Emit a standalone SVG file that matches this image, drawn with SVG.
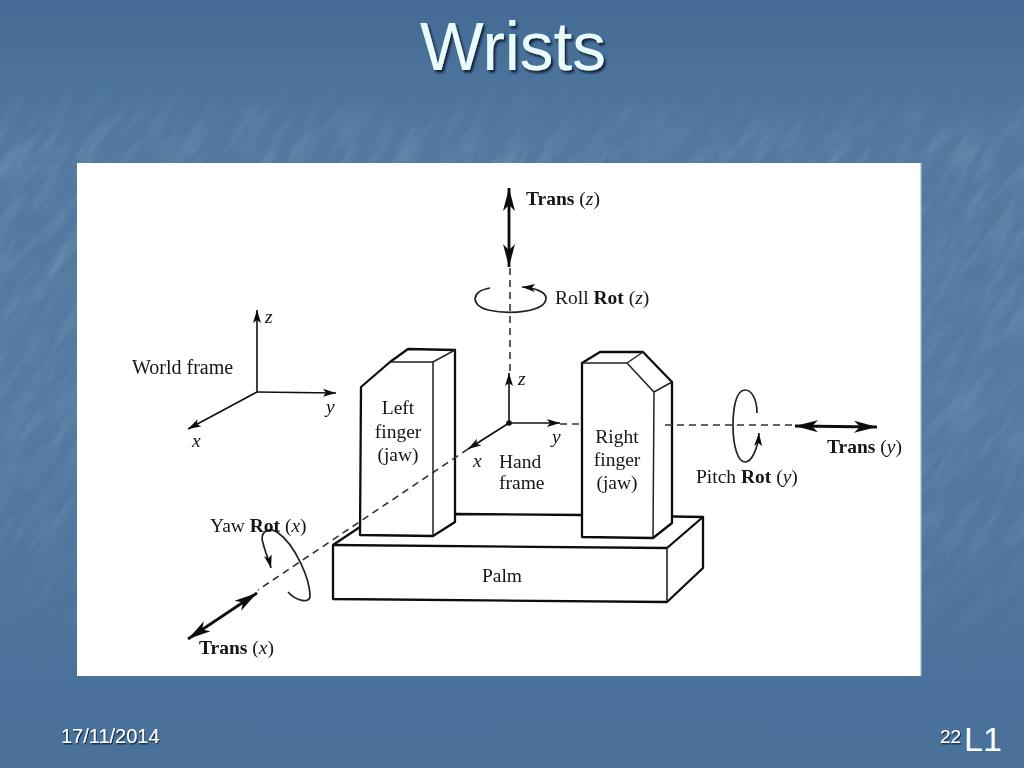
<svg xmlns="http://www.w3.org/2000/svg" width="1024" height="768" viewBox="0 0 1024 768">
<style>
.f{fill:#fff;stroke:#111;stroke-width:2.3;stroke-linejoin:round}
.e{fill:none;stroke:#222;stroke-width:1.5}
.ax{fill:none;stroke:#111;stroke-width:1.6;marker-end:url(#thin)}
.d{fill:none;stroke:#333;stroke-width:1.6;stroke-dasharray:7 5}
.rot{fill:none;stroke:#222;stroke-width:1.7;marker-end:url(#thin)}
.tr{fill:none;stroke:#111;stroke-width:2.8;marker-start:url(#bold);marker-end:url(#bold)}
text{font-family:"Liberation Serif","Times New Roman",serif;font-size:19.5px;fill:#151515}
.c{text-anchor:middle}
.b{font-weight:bold}
.i{font-style:italic}
.ft{font-family:"Liberation Sans",Arial,sans-serif;fill:#fff;filter:url(#sh1)}
.ti{font-family:"Liberation Sans",Arial,sans-serif;font-size:69px;fill:#e9fcfd;filter:url(#sh2)}
</style>
<defs>
<linearGradient id="bg" x1="0" y1="0" x2="0" y2="1">
<stop offset="0" stop-color="#436b95"/><stop offset=".2" stop-color="#527aa0"/><stop offset=".55" stop-color="#537ba1"/><stop offset=".9" stop-color="#4a719b"/><stop offset="1" stop-color="#4a719a"/>
</linearGradient>
<linearGradient id="bandG" x1="0" y1="0" x2="0" y2="1">
<stop offset="0" stop-color="#000"/><stop offset=".1" stop-color="#000"/><stop offset=".2" stop-color="#fff"/><stop offset=".7" stop-color="#ccc"/><stop offset=".88" stop-color="#000"/>
</linearGradient>
<mask id="band"><rect width="1024" height="768" fill="url(#bandG)"/></mask>
<filter id="tex" x="0" y="0" width="100%" height="100%">
<feTurbulence type="fractalNoise" baseFrequency="0.018 0.08" numOctaves="4" seed="7"/>
<feColorMatrix values="0 0 0 0 .72  0 0 0 0 .82  0 0 0 0 .9  1.5 0 0 0 -.62"/>
</filter>
<filter id="sh1" x="-10%" y="-30%" width="120%" height="160%"><feDropShadow dx="1" dy="1.5" stdDeviation=".7" flood-color="#10233a" flood-opacity=".9"/></filter>
<filter id="sh2" x="-10%" y="-10%" width="120%" height="120%"><feDropShadow dx="2" dy="2.5" stdDeviation="1" flood-color="#0d1f33" flood-opacity=".95"/></filter>
<filter id="soft" x="0" y="0" width="100%" height="100%"><feGaussianBlur stdDeviation=".35"/></filter>
<marker id="thin" markerUnits="userSpaceOnUse" markerWidth="14" markerHeight="10" refX="13" refY="5" orient="auto"><path d="M0 1 L13 5 L0 9 L3 5Z" fill="#111"/></marker>
<marker id="bold" markerUnits="userSpaceOnUse" markerWidth="24" markerHeight="14" refX="23" refY="7" orient="auto-start-reverse"><path d="M0 1 L23 7 L0 13 L6 7Z" fill="#111"/></marker>
</defs>

<g id="background">
<rect width="1024" height="768" fill="url(#bg)"/>
<g mask="url(#band)"><rect x="-500" y="-500" width="2100" height="1800" transform="rotate(-55 512 384)" filter="url(#tex)" opacity=".2"/></g>
</g>
<text id="title" class="ti" x="420" y="70" textLength="186" lengthAdjust="spacingAndGlyphs">Wrists</text>
<rect id="panel" x="77" y="163" width="844" height="513" fill="#fff"/>
<path d="M921 163 V676" stroke="#a9b9c9" stroke-width="1.2" fill="none"/>

<g filter="url(#soft)">
<g id="palm">
<path class="f" d="M333 545 L360 527 L455 514 L582 515 L703 517 V568 L667 602 L333 599Z"/>
<path class="f" style="fill:none" d="M333 545 L667 548 L703 517"/>
<path class="e" style="stroke-width:1.6" d="M667 548 V602"/>
<text class="c" x="502" y="582">Palm</text>
</g>
<g id="left-finger">
<path class="f" d="M361 387 L390 362 L408 349 L455 350 V522 L433 536 L360 535Z"/>
<path class="e" d="M390 362 H433 L455 350 M433 362 V536"/>
<text class="c" x="398" y="414">Left</text>
<text class="c" x="398" y="438">finger</text>
<text class="c" x="398" y="461">(jaw)</text>
</g>
<g id="right-finger">
<path class="f" d="M582 363 L600 352 L643 352 L672 382 V523 L653 538 L582 537Z"/>
<path class="e" d="M582 363 H627 L654 392 L672 382 M627 363 L643 352 M654 392 L653 538"/>
<text class="c" x="617" y="443">Right</text>
<text class="c" x="617" y="466">finger</text>
<text class="c" x="617" y="489">(jaw)</text>
</g>

<g id="connectors">
<path class="ax" d="M257 392 V310"/>
<path class="ax" d="M257 392 L336 393"/>
<path class="ax" d="M257 392 L188 429"/>
<circle cx="509" cy="423" r="2.8" fill="#111"/>
<path class="ax" d="M509 423 V373"/>
<path class="ax" d="M509 423 H560"/>
<path class="ax" d="M509 423 L468 449"/>
<path class="d" d="M510 268 V373"/>
<path class="d" d="M560 424 H582"/>
<path class="d" d="M665 425 H795"/>
<path class="d" d="M468 449 L258 590"/>
<path class="tr" d="M509 188 V267"/>
<path class="tr" d="M795 426 L877 427"/>
<path class="tr" d="M257 593 L188 639"/>
<path class="rot" d="M490 288 C470 291 471 306 488 310 C510 315 546 312 546 298 C546 292 535 288 522 287"/>
<path class="rot" d="M757 413 C757 398 751 390 745 390 C736 390 733 408 733 426 C733 446 738 462 745 462 C752 462 758 448 759 433"/>
<path class="rot" d="M288 592 C296 601 310 604 310 596 C310 580 296 545 277 532 C266 526 260 534 263 543 C265 552 269 560 271 568"/>
</g>

<g id="world-frame">
<text x="132" y="374" style="font-size:20px">World frame</text>
<text class="i" x="265" y="323">z</text>
<text class="i" x="326" y="413">y</text>
<text class="i" x="192" y="447">x</text>
</g>
<g id="hand-frame">
<text class="i" x="518" y="385">z</text>
<text class="i" x="552" y="443">y</text>
<text class="i" x="473" y="467">x</text>
<text x="499" y="468">Hand</text>
<text x="499" y="489">frame</text>
</g>
<g id="labels">
<text x="526" y="205"><tspan class="b">Trans</tspan> (<tspan class="i">z</tspan>)</text>
<text x="555" y="304">Roll <tspan class="b">Rot</tspan> (<tspan class="i">z</tspan>)</text>
<text x="696" y="483">Pitch <tspan class="b">Rot</tspan> (<tspan class="i">y</tspan>)</text>
<text x="827" y="453"><tspan class="b">Trans</tspan> (<tspan class="i">y</tspan>)</text>
<text x="210" y="532">Yaw <tspan class="b">Rot</tspan> (<tspan class="i">x</tspan>)</text>
<text x="199" y="654"><tspan class="b">Trans</tspan> (<tspan class="i">x</tspan>)</text>
</g>
</g>

<g id="footer">
<text class="ft" x="61" y="743" style="font-size:20px">17/11/2014</text>
<text class="ft" x="940" y="743" style="font-size:19px">22</text>
<text class="ft" x="964" y="751" style="font-size:34px;filter:none">L1</text>
</g>
</svg>
